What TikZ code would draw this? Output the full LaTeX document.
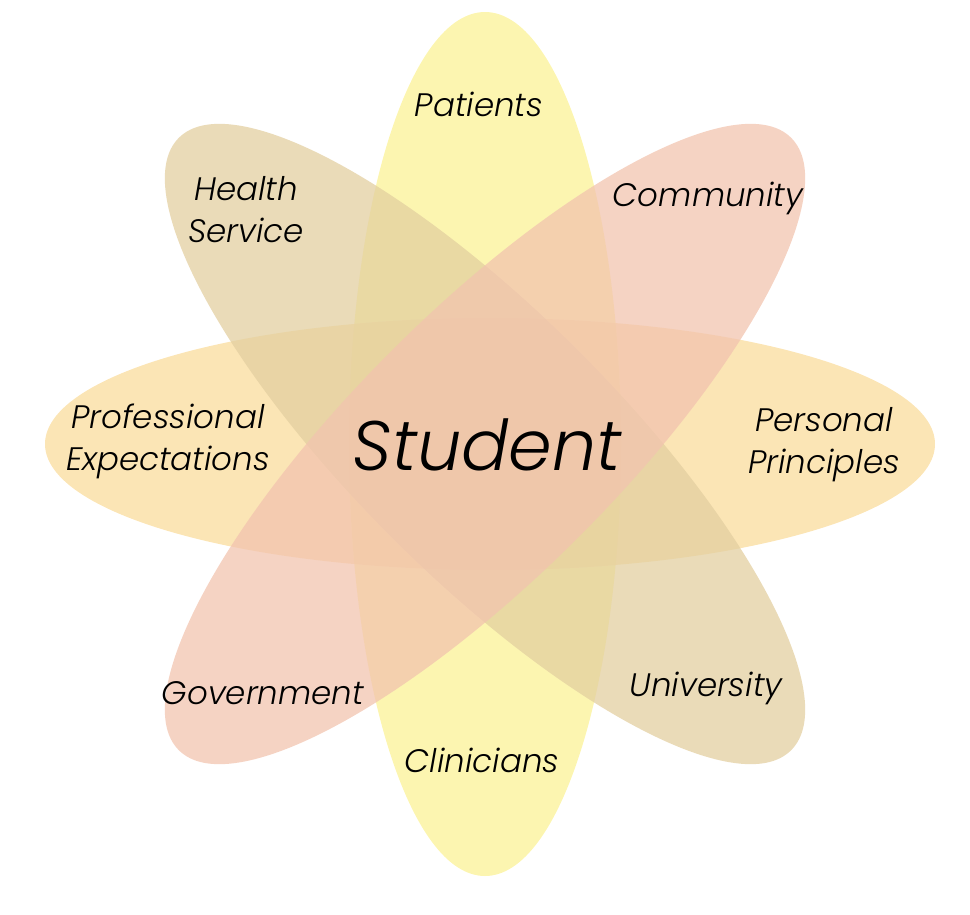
\documentclass[tikz,border=0pt]{standalone}
\usepackage{fontspec}
\setmainfont{Poppins Light}
\usetikzlibrary{calc}

\definecolor{petalyellow}{RGB}{251,242,150}
\definecolor{petalorange}{RGB}{250,220,156}
\definecolor{petaltan}{RGB}{227,207,160}
\definecolor{petalred}{RGB}{242,196,175}

\tikzset{
  petal/.style={fill opacity=0.75},
  petaltext/.style={font=\fontsize{32.5}{42}\selectfont\itshape, align=center, inner sep=0pt},
}

\begin{document}
\begin{tikzpicture}[x=1pt,y=-1pt]
        \useasboundingbox (0,0) rectangle (970,914);
        \coordinate (O) at (485,444);

        % the four petals
        \fill[petal, petalyellow] (O) ellipse [x radius=136, y radius=432];
        \fill[petal, petalorange] (490,444) ellipse [x radius=445, y radius=126];
        \fill[petal, petaltan, rotate around={-45:(O)}] (O) ellipse [x radius=433, y radius=132];
        \fill[petal, petalred, rotate around={45:(O)}] (O) ellipse [x radius=433, y radius=132];

        % labels
        \node[petaltext] (student) at (487,445) {\fontsize{70}{80}\selectfont Student};
        \node[petaltext] (patients) at (479,104) {Patients};
        \node[petaltext] (healthservice) at (246,210) {Health\\Service};
        \node[petaltext] (community) at (708,198) {Community};
        \node[petaltext] (professional) at (168,441) {Professional\\Expectations};
        \node[petaltext] (personal) at (824,445) {Personal\\Principles};
        \node[petaltext] (government) at (263,693) {Government};
        \node[petaltext] (university) at (706,688) {University};
        \node[petaltext] (clinicians) at (482,760) {Clinicians};
    \end{tikzpicture}
\end{document}
